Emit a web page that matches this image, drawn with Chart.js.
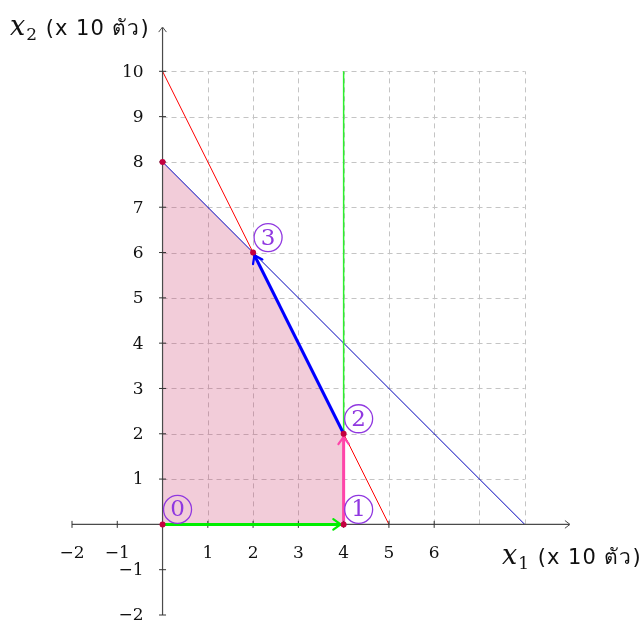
<!DOCTYPE html>
<html>
<head>
<meta charset="utf-8">
<script src="https://cdn.jsdelivr.net/npm/chart.js@4.4.1/dist/chart.umd.min.js"></script>
<style>
html,body{margin:0;padding:0;background:#fff;}
#wrap{width:640px;height:621px;position:relative;}
</style>
</head>
<body>
<div id="wrap"><canvas id="c" width="640" height="621"></canvas></div>
<script>
// ---- data ----
const xTickValues = [-2, -1, 1, 2, 3, 4, 5, 6];
const yTickValues = [-2, -1, 1, 2, 3, 4, 5, 6, 7, 8, 9, 10];
const gridXValues = [1, 2, 3, 4, 5, 6, 7, 8];
const gridYValues = [1, 2, 3, 4, 5, 6, 7, 8, 9, 10];
const xRange = [-2, 9];
const yRange = [-2, 11];
const redConstraint = [{x: 0, y: 10}, {x: 5, y: 0}];     // 2x1 + x2 = 10
const blueConstraint = [{x: 0, y: 8}, {x: 8, y: 0}];     // x1 + x2 = 8
const greenConstraint = [{x: 4, y: 0}, {x: 4, y: 10}];   // x1 = 4
const feasibleTop = [{x: 0, y: 8}, {x: 2, y: 6}, {x: 4, y: 2}, {x: 4, y: 0}];
const step1 = [{x: 0, y: 0}, {x: 4, y: 0}];
const step2 = [{x: 4, y: 0}, {x: 4, y: 2}];
const step3 = [{x: 4, y: 2}, {x: 2, y: 6}];
const vertices = [{x: 0, y: 0}, {x: 4, y: 0}, {x: 4, y: 2}, {x: 2, y: 6}, {x: 0, y: 8}];
const vertexLabels = [{x: 0, y: 0, t: '0'}, {x: 4, y: 0, t: '1'}, {x: 4, y: 2, t: '2'}, {x: 2, y: 6, t: '3'}];
const xAxisTitle = ['x', '1', ' (x 10 ตัว)'];
const yAxisTitle = ['x', '2', ' (x 10 ตัว)'];

const SERIF = "'DejaVu Serif', 'Liberation Serif', serif";
const SANS = "'DejaVu Sans', 'Noto Sans', sans-serif";

function chevron(ctx, tx, ty, dx, dy, len, spread, color, lw) {
  const a = Math.atan2(dy, dx);
  ctx.save();
  ctx.strokeStyle = color; ctx.lineWidth = lw; ctx.lineCap = 'round'; ctx.lineJoin = 'round';
  ctx.beginPath();
  ctx.moveTo(tx - len * Math.cos(a - spread), ty - len * Math.sin(a - spread));
  ctx.lineTo(tx, ty);
  ctx.lineTo(tx - len * Math.cos(a + spread), ty - len * Math.sin(a + spread));
  ctx.stroke();
  ctx.restore();
}

const axesPlugin = {
  id: 'axesPlugin',
  beforeDatasetsDraw(chart) {
    const ctx = chart.ctx, xs = chart.scales.x, ys = chart.scales.y;
    const X = v => xs.getPixelForValue(v), Y = v => ys.getPixelForValue(v);
    ctx.save();
    ctx.strokeStyle = '#c4c4c4'; ctx.lineWidth = 1; ctx.setLineDash([5, 4]);
    const gx = gridXValues[gridXValues.length - 1], gy = gridYValues[gridYValues.length - 1];
    gridXValues.forEach(v => {
      ctx.beginPath(); ctx.moveTo(Math.round(X(v)) + 0.5, Y(0)); ctx.lineTo(Math.round(X(v)) + 0.5, Y(gy)); ctx.stroke();
    });
    gridYValues.forEach(v => {
      ctx.beginPath(); ctx.moveTo(X(0), Math.round(Y(v)) + 0.5); ctx.lineTo(X(gx), Math.round(Y(v)) + 0.5); ctx.stroke();
    });
    ctx.restore();
  },
  afterDatasetsDraw(chart) {
    const ctx = chart.ctx, xs = chart.scales.x, ys = chart.scales.y;
    const X = v => xs.getPixelForValue(v), Y = v => ys.getPixelForValue(v);
    ctx.save();
    ctx.strokeStyle = '#4a4a4a'; ctx.lineWidth = 1.2; ctx.setLineDash([]);
    const y0 = Y(0), x0 = X(0);
    ctx.beginPath(); ctx.moveTo(X(xRange[0]), y0); ctx.lineTo(X(xRange[1]) - 1, y0); ctx.stroke();
    ctx.beginPath(); ctx.moveTo(x0, Y(yRange[0])); ctx.lineTo(x0, Y(yRange[1]) + 2); ctx.stroke();
    chevron(ctx, X(xRange[1]), y0, 1, 0, 6, 0.65, '#4a4a4a', 1);
    chevron(ctx, x0, Y(yRange[1]) + 1, 0, -1, 6, 0.65, '#4a4a4a', 1);
    ctx.strokeStyle = '#333'; ctx.lineWidth = 1;
    xTickValues.forEach(v => { ctx.beginPath(); ctx.moveTo(X(v), y0 - 3.5); ctx.lineTo(X(v), y0 + 3.5); ctx.stroke(); });
    yTickValues.forEach(v => { ctx.beginPath(); ctx.moveTo(x0 - 3.5, Y(v)); ctx.lineTo(x0 + 3.5, Y(v)); ctx.stroke(); });
    ctx.restore();

    // redraw first step over the x axis so it stays on top
    ctx.save();
    ctx.strokeStyle = '#00ee00'; ctx.lineWidth = 3;
    ctx.beginPath(); ctx.moveTo(X(step1[0].x), Y(step1[0].y)); ctx.lineTo(X(step1[1].x) - 3, Y(step1[1].y)); ctx.stroke();
    ctx.restore();

    const arrows = [[step1, '#00ee00'], [step2, '#ff44aa'], [step3, '#0000ff']];
    arrows.forEach(([s, col]) => {
      const a = s[s.length - 2], b = s[s.length - 1];
      const ax = X(a.x), ay = Y(a.y), bx = X(b.x), by = Y(b.y);
      const d = Math.hypot(bx - ax, by - ay);
      const ux = (bx - ax) / d, uy = (by - ay) / d;
      chevron(ctx, bx - ux * 3, by - uy * 3, ux, uy, 9, 0.62, col, 2.2);
    });

    ctx.save();
    ctx.fillStyle = '#c4003f';
    vertices.forEach(p => { ctx.beginPath(); ctx.arc(X(p.x), Y(p.y), 3, 0, Math.PI * 2); ctx.fill(); });
    ctx.restore();
  },
  afterDraw(chart) {
    const ctx = chart.ctx, xs = chart.scales.x, ys = chart.scales.y;
    const X = v => xs.getPixelForValue(v), Y = v => ys.getPixelForValue(v);
    const y0 = Y(0), x0 = X(0);
    ctx.save();
    ctx.fillStyle = '#111';
    ctx.font = '17px ' + SERIF;
    const fmt = v => v < 0 ? '\u2212' + Math.abs(v) : String(v);
    ctx.textAlign = 'center'; ctx.textBaseline = 'alphabetic';
    xTickValues.forEach(v => { ctx.fillText(fmt(v), X(v), y0 + 34); });
    ctx.textAlign = 'right'; ctx.textBaseline = 'middle';
    yTickValues.forEach(v => { ctx.fillText(fmt(v), x0 - 19, Y(v) + 1); });

    function title(parts, x, y) {
      ctx.textAlign = 'left'; ctx.textBaseline = 'alphabetic';
      ctx.font = 'italic 27px ' + SERIF;
      ctx.fillText(parts[0], x, y);
      let w = ctx.measureText(parts[0]).width;
      ctx.font = '17px ' + SERIF;
      ctx.fillText(parts[1], x + w + 1, y + 5);
      w += ctx.measureText(parts[1]).width + 2;
      ctx.font = '21px ' + SANS;
      try { ctx.letterSpacing = '1px'; } catch (e) {}
      ctx.fillText(parts[2], x + w, y);
      try { ctx.letterSpacing = '0px'; } catch (e) {}
    }
    title(yAxisTitle, 10, 35);
    title(xAxisTitle, 502, 564);

    ctx.strokeStyle = '#9038e0'; ctx.fillStyle = '#9038e0'; ctx.lineWidth = 1.3;
    vertexLabels.forEach(p => {
      const cx = X(p.x) + 15, cy = Y(p.y) - 15;
      ctx.beginPath(); ctx.arc(cx, cy, 14, 0, Math.PI * 2); ctx.stroke();
      ctx.font = '23px ' + SERIF; ctx.textAlign = 'center'; ctx.textBaseline = 'middle';
      ctx.fillText(p.t, cx, cy + 1);
    });
    ctx.restore();
  }
};

const common = {pointRadius: 0, pointHoverRadius: 0, fill: false, tension: 0};
new Chart(document.getElementById('c'), {
  type: 'line',
  data: {
    datasets: [
      Object.assign({}, common, {label: 'step3', data: step3, borderColor: '#0000ff', borderWidth: 3, order: 1}),
      Object.assign({}, common, {label: 'step2', data: step2, borderColor: '#ff44aa', borderWidth: 3, order: 2}),
      Object.assign({}, common, {label: 'step1', data: step1, borderColor: '#00ee00', borderWidth: 3, order: 3}),
      Object.assign({}, common, {label: 'x1=4', data: greenConstraint, borderColor: '#2cf02c', borderWidth: 1.5, order: 4}),
      Object.assign({}, common, {label: 'x1+x2=8', data: blueConstraint, borderColor: '#0000bb', borderWidth: 1, order: 5}),
      Object.assign({}, common, {label: '2x1+x2=10', data: redConstraint, borderColor: '#ff0000', borderWidth: 1, order: 6}),
      Object.assign({}, common, {label: 'feasible', data: feasibleTop, borderWidth: 0, borderColor: 'rgba(0,0,0,0)', backgroundColor: 'rgba(204,51,102,0.25)', fill: 'origin', order: 7})
    ]
  },
  options: {
    responsive: false,
    animation: false,
    events: [],
    layout: {padding: {left: 72, right: 70, top: 26, bottom: 6}},
    scales: {
      x: {type: 'linear', min: xRange[0], max: xRange[1], display: false},
      y: {type: 'linear', min: yRange[0], max: yRange[1], display: false}
    },
    plugins: {legend: {display: false}, tooltip: {enabled: false}, title: {display: false}}
  },
  plugins: [axesPlugin]
});
</script>
</body>
</html>
